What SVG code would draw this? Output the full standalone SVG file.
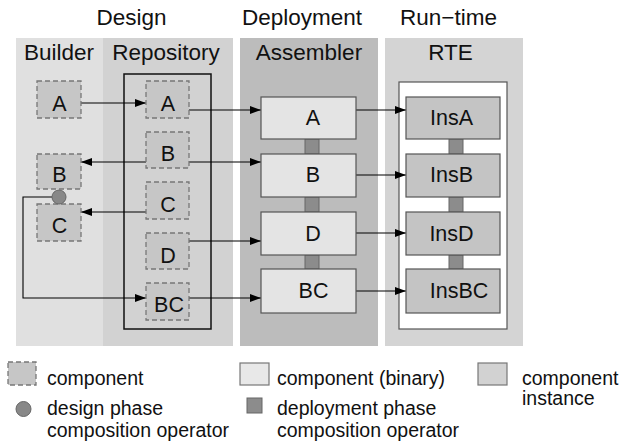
<svg xmlns="http://www.w3.org/2000/svg" width="626" height="442" viewBox="0 0 626 442">
<defs>
<marker id="ah" markerUnits="userSpaceOnUse" markerWidth="12" markerHeight="9" refX="11" refY="4" orient="auto">
<path d="M0,0 L11,4 L0,8 z" fill="#000"/>
</marker>
</defs>
<style>
text{font-family:"Liberation Sans",Arial,sans-serif;fill:#111}
.title{font-size:22.5px;text-anchor:middle}
.lbl{font-size:21.5px;text-anchor:middle}
.leg{font-size:19.5px}
.comp{fill:#c6c6c6;stroke:#777;stroke-width:1.3;stroke-dasharray:5,3}
.bin{fill:#e4e4e4;stroke:#555;stroke-width:1.2}
.ins{fill:#c4c4c4;stroke:#555;stroke-width:1.2}
.op{fill:#8c8c8c;stroke:#666;stroke-width:1}
.arr{fill:none;stroke:#000;stroke-width:1.1;marker-end:url(#ah)}
</style>
<rect width="626" height="442" fill="#fff"/>
<g id="panels">
<rect x="16" y="38" width="87" height="308" fill="#e0e0e0"/>
<rect x="103" y="38" width="130" height="308" fill="#d2d2d2"/>
<rect x="240" y="38" width="138" height="308" fill="#bcbcbc"/>
<rect x="385" y="38" width="138" height="308" fill="#d4d4d4"/>
<rect x="124" y="74" width="87" height="255" fill="none" stroke="#111" stroke-width="1.5"/>
<rect x="399" y="82" width="108" height="247" fill="#fff" stroke="#555" stroke-width="1.2"/>
</g>
<g id="titles">
<text class="title" x="131.5" y="25">Design</text>
<text class="title" x="302" y="25">Deployment</text>
<text class="title" x="448.5" y="25">Run−time</text>
<text class="title" x="59" y="60">Builder</text>
<text class="title" x="166" y="60">Repository</text>
<text class="title" x="309" y="60">Assembler</text>
<text class="title" x="450.5" y="60">RTE</text>
</g>
<g id="connectors">
<line class="arr" x1="81" y1="103" x2="146" y2="103"/>
<line class="arr" x1="189" y1="110" x2="261" y2="110"/>
<line class="arr" x1="146" y1="162" x2="81" y2="162"/>
<line class="arr" x1="189" y1="162" x2="261" y2="162"/>
<line class="arr" x1="146" y1="212" x2="81" y2="212"/>
<line class="arr" x1="189" y1="241" x2="261" y2="241"/>
<path class="arr" d="M52,197 H23 V298 H146"/>
<line class="arr" x1="189" y1="298" x2="261" y2="298"/>
<line class="arr" x1="356" y1="110" x2="406" y2="110"/>
<line class="arr" x1="356" y1="175" x2="406" y2="175"/>
<line class="arr" x1="356" y1="233" x2="406" y2="233"/>
<line class="arr" x1="356" y1="291" x2="406" y2="291"/>
</g>
<g id="deploy-ops">
<rect class="op" x="305" y="139" width="14" height="15"/>
<rect class="op" x="305" y="197" width="14" height="15"/>
<rect class="op" x="305" y="255" width="14" height="14"/>
<rect class="op" x="449" y="139" width="14" height="15"/>
<rect class="op" x="449" y="197" width="14" height="15"/>
<rect class="op" x="449" y="255" width="14" height="14"/>
</g>
<g id="builder-A"><rect class="comp" x="37" y="81" width="44" height="37"/><text class="lbl" x="59.5" y="111">A</text></g>
<g id="builder-B"><rect class="comp" x="37" y="154" width="44" height="35"/><text class="lbl" x="59.5" y="182">B</text></g>
<g id="builder-C"><rect class="comp" x="37" y="204" width="44" height="37"/><text class="lbl" x="59.5" y="233">C</text></g>
<g id="design-op"><circle cx="59" cy="197" r="7" fill="#888" stroke="#666" stroke-width="1"/></g>
<g id="repo-A"><rect class="comp" x="146" y="81" width="43" height="37"/><text class="lbl" x="168" y="111">A</text></g>
<g id="repo-B"><rect class="comp" x="146" y="132" width="43" height="36"/><text class="lbl" x="168" y="161">B</text></g>
<g id="repo-C"><rect class="comp" x="146" y="182" width="43" height="37"/><text class="lbl" x="168" y="212">C</text></g>
<g id="repo-D"><rect class="comp" x="146" y="233" width="43" height="36"/><text class="lbl" x="168" y="263">D</text></g>
<g id="repo-BC"><rect class="comp" x="146" y="283" width="43" height="37"/><text class="lbl" x="169" y="312">BC</text></g>
<g id="asm-A"><rect class="bin" x="261" y="97" width="95" height="42"/><text class="lbl" x="313" y="125">A</text></g>
<g id="asm-B"><rect class="bin" x="261" y="154" width="95" height="43"/><text class="lbl" x="313" y="182">B</text></g>
<g id="asm-D"><rect class="bin" x="261" y="212" width="95" height="43"/><text class="lbl" x="313" y="241">D</text></g>
<g id="asm-BC"><rect class="bin" x="261" y="269" width="95" height="44"/><text class="lbl" x="313.5" y="298">BC</text></g>
<g id="ins-A"><rect class="ins" x="406" y="97" width="94" height="42"/><text class="lbl" x="451.5" y="125">InsA</text></g>
<g id="ins-B"><rect class="ins" x="406" y="154" width="94" height="43"/><text class="lbl" x="451.5" y="182">InsB</text></g>
<g id="ins-D"><rect class="ins" x="406" y="212" width="94" height="43"/><text class="lbl" x="451.5" y="241">InsD</text></g>
<g id="ins-BC"><rect class="ins" x="406" y="269" width="94" height="44"/><text class="lbl" x="459" y="298">InsBC</text></g>
<g id="legend">
<rect class="comp" x="8" y="362" width="28" height="23"/>
<text class="leg" x="47" y="385">component</text>
<circle cx="23.5" cy="409" r="7.5" fill="#888" stroke="#666" stroke-width="1"/>
<text class="leg" x="47" y="415">design phase</text>
<text class="leg" x="47" y="437">composition operator</text>
<rect x="240" y="363" width="29" height="22" fill="#e8e8e8" stroke="#777" stroke-width="1.2"/>
<text class="leg" x="277" y="385">component (binary)</text>
<rect class="op" x="247" y="398" width="15" height="15"/>
<text class="leg" x="277" y="415">deployment phase</text>
<text class="leg" x="277" y="437">composition operator</text>
<rect x="478" y="363" width="29" height="22" fill="#d2d2d2" stroke="#777" stroke-width="1.2"/>
<text class="leg" x="522" y="385">component</text>
<text class="leg" x="522" y="405">instance</text>
</g>
</svg>
